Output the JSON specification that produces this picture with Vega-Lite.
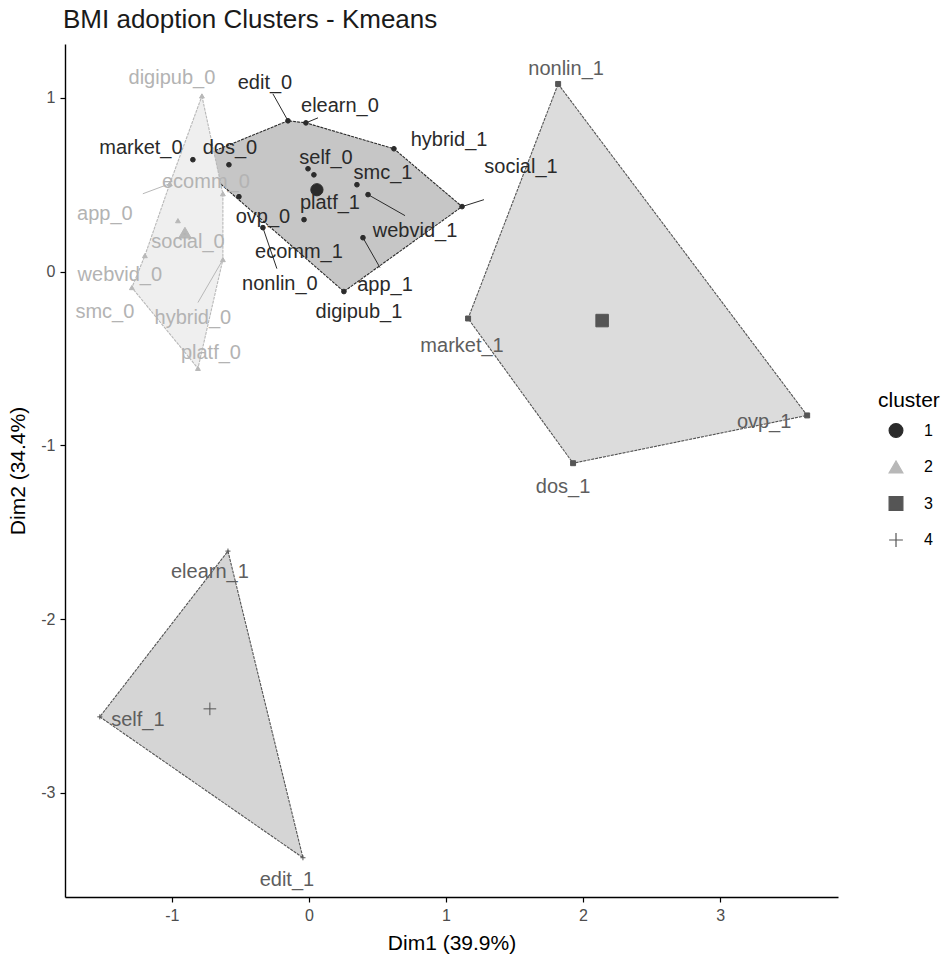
{
  "$schema": "https://vega.github.io/schema/vega-lite/v6.json",
  "width": 773,
  "height": 853,
  "autosize": {"type": "none"},
  "padding": {"left": 65, "top": 44, "right": 108, "bottom": 65},
  "background": "white",
  "title": {
    "text": "BMI adoption Clusters - Kmeans",
    "anchor": "start",
    "frame": "group",
    "font": "Liberation Sans",
    "fontSize": 26,
    "fontWeight": "normal",
    "color": "#1a1a1a",
    "offset": 11,
    "dx": -2
  },
  "config": {
    "view": {"stroke": null},
    "font": "Liberation Sans",
    "axis": {
      "grid": false,
      "domainColor": "#000000",
      "domainWidth": 1.4,
      "tickColor": "#000000",
      "tickWidth": 1.2,
      "tickSize": 5,
      "labelColor": "#4d4d4d",
      "labelFontSize": 16,
      "labelFont": "Liberation Sans",
      "labelPadding": 5,
      "titleFont": "Liberation Sans",
      "titleFontSize": 21,
      "titleFontWeight": "normal",
      "titleColor": "#000000"
    },
    "legend": {
      "titleFont": "Liberation Sans",
      "titleFontSize": 21,
      "titleFontWeight": "normal",
      "titleColor": "#000000",
      "labelFont": "Liberation Sans",
      "labelFontSize": 16,
      "labelColor": "#000000"
    }
  },
  "datasets": {
    "modalities": [
      {"name": "market_0", "cluster": "1", "x": -0.847, "y": 0.644, "lx": -1.226, "ly": 0.713, "h": 1},
      {"name": "edit_0", "cluster": "1", "x": -0.153, "y": 0.868, "lx": -0.321, "ly": 1.086, "h": 2, "sx": -0.263, "sy": 1.023},
      {"name": "elearn_0", "cluster": "1", "x": -0.022, "y": 0.856, "lx": 0.226, "ly": 0.954, "h": 3, "sx": 0.066, "sy": 0.885},
      {"name": "hybrid_1", "cluster": "1", "x": 0.62, "y": 0.707, "lx": 1.022, "ly": 0.759, "h": 4},
      {"name": "social_1", "cluster": "1", "x": 1.117, "y": 0.374, "lx": 1.547, "ly": 0.603, "h": 5, "sx": 1.277, "sy": 0.414},
      {"name": "digipub_1", "cluster": "1", "x": 0.255, "y": -0.115, "lx": 0.365, "ly": -0.23, "h": 6},
      {"name": "dos_0", "cluster": "1", "x": -0.584, "y": 0.615, "lx": -0.577, "ly": 0.713},
      {"name": "self_0", "cluster": "1", "x": -0.007, "y": 0.592, "lx": 0.124, "ly": 0.655},
      {"name": "platf_1", "cluster": "1", "x": 0.036, "y": 0.557, "lx": 0.153, "ly": 0.397},
      {"name": "smc_1", "cluster": "1", "x": 0.35, "y": 0.5, "lx": 0.54, "ly": 0.569},
      {"name": "webvid_1", "cluster": "1", "x": 0.431, "y": 0.443, "lx": 0.774, "ly": 0.236, "sx": 0.701, "sy": 0.322},
      {"name": "ovp_0", "cluster": "1", "x": -0.511, "y": 0.431, "lx": -0.336, "ly": 0.316},
      {"name": "nonlin_0", "cluster": "1", "x": -0.336, "y": 0.253, "lx": -0.212, "ly": -0.069, "sx": -0.234, "sy": 0.017},
      {"name": "ecomm_1", "cluster": "1", "x": -0.036, "y": 0.299, "lx": -0.073, "ly": 0.115},
      {"name": "app_1", "cluster": "1", "x": 0.394, "y": 0.195, "lx": 0.555, "ly": -0.075, "sx": 0.518, "sy": 0.023},
      {"name": "digipub_0", "cluster": "2", "x": -0.781, "y": 1.011, "lx": -1.0, "ly": 1.115, "h": 1},
      {"name": "ecomm_0", "cluster": "2", "x": -0.628, "y": 0.448, "lx": -0.752, "ly": 0.517, "h": 2},
      {"name": "hybrid_0", "cluster": "2", "x": -0.628, "y": 0.069, "lx": -0.847, "ly": -0.27, "h": 3, "sx": -0.81, "sy": -0.178},
      {"name": "platf_0", "cluster": "2", "x": -0.81, "y": -0.557, "lx": -0.715, "ly": -0.471, "h": 4},
      {"name": "smc_0", "cluster": "2", "x": -1.292, "y": -0.092, "lx": -1.489, "ly": -0.23, "h": 5},
      {"name": "webvid_0", "cluster": "2", "x": -1.197, "y": 0.092, "lx": -1.38, "ly": -0.017, "h": 6},
      {"name": "app_0", "cluster": "2", "x": -1.015, "y": 0.506, "lx": -1.489, "ly": 0.333, "h": 7, "sx": -1.212, "sy": 0.448},
      {"name": "social_0", "cluster": "2", "x": -0.956, "y": 0.293, "lx": -0.883, "ly": 0.172},
      {"name": "nonlin_1", "cluster": "3", "x": 1.818, "y": 1.08, "lx": 1.876, "ly": 1.167, "h": 1},
      {"name": "ovp_1", "cluster": "3", "x": 3.635, "y": -0.828, "lx": 3.321, "ly": -0.868, "h": 2},
      {"name": "dos_1", "cluster": "3", "x": 1.927, "y": -1.103, "lx": 1.854, "ly": -1.241, "h": 3},
      {"name": "market_1", "cluster": "3", "x": 1.161, "y": -0.27, "lx": 1.117, "ly": -0.431, "h": 4},
      {"name": "elearn_1", "cluster": "4", "x": -0.591, "y": -1.609, "lx": -0.723, "ly": -1.73, "h": 1},
      {"name": "edit_1", "cluster": "4", "x": -0.044, "y": -3.374, "lx": -0.161, "ly": -3.5, "h": 2},
      {"name": "self_1", "cluster": "4", "x": -1.526, "y": -2.563, "lx": -1.248, "ly": -2.58, "h": 3}
    ],
    "centers": [
      {"cluster": "1", "x": 0.058, "y": 0.471},
      {"cluster": "2", "x": -0.905, "y": 0.224},
      {"cluster": "3", "x": 2.139, "y": -0.282},
      {"cluster": "4", "x": -0.723, "y": -2.517}
    ]
  },
  "encoding": {
    "x": {
      "field": "x",
      "type": "quantitative",
      "scale": {"domain": [-1.78, 3.86], "nice": false, "zero": false},
      "axis": {"values": [-1, 0, 1, 2, 3], "labelExpr": "toString(datum.value)", "title": "Dim1 (39.9%)", "titlePadding": 9}
    },
    "y": {
      "field": "y",
      "type": "quantitative",
      "scale": {"domain": [-3.6, 1.31], "nice": false, "zero": false},
      "axis": {"values": [-3, -2, -1, 0, 1], "labelExpr": "toString(datum.value)", "title": "Dim2 (34.4%)", "titlePadding": 12}
    }
  },
  "layer": [
    {
      "data": {"name": "modalities"},
      "transform": [{"filter": "isValid(datum.h)"}],
      "mark": {"type": "line", "interpolate": "linear-closed", "strokeWidth": 1.1, "strokeDash": [3, 1]},
      "encoding": {
        "order": {"field": "h", "type": "quantitative"},
        "detail": {"field": "cluster"},
        "fill": {
          "field": "cluster",
          "type": "nominal",
          "scale": {"domain": ["1", "2", "3", "4"], "range": ["#c6c6c6", "#efefef", "#dcdcdc", "#d5d5d5"]},
          "legend": null
        },
        "stroke": {"field": "cluster", "type": "nominal", "title": "cluster"}
      }
    },
    {
      "data": {"name": "modalities"},
      "transform": [{"filter": "isValid(datum.sx)"}],
      "mark": {"type": "rule", "strokeWidth": 1},
      "encoding": {
        "x2": {"field": "sx"},
        "y2": {"field": "sy"},
        "stroke": {"field": "cluster", "type": "nominal", "title": "cluster"}
      }
    },
    {
      "data": {"name": "modalities"},
      "mark": {"type": "point", "filled": true, "strokeWidth": 1, "opacity": 1},
      "encoding": {
        "color": {
          "field": "cluster",
          "type": "nominal",
          "title": "cluster",
          "scale": {"domain": ["1", "2", "3", "4"], "range": ["#2b2b2b", "#b8b8b8", "#555555", "#555555"]}
        },
        "stroke": {
          "field": "cluster",
          "type": "nominal",
          "title": "cluster",
          "scale": {"domain": ["1", "2", "3", "4"], "range": ["#2b2b2b", "#b8b8b8", "#555555", "#555555"]}
        },
        "shape": {
          "field": "cluster",
          "type": "nominal",
          "title": "cluster",
          "scale": {"domain": ["1", "2", "3", "4"], "range": ["circle", "triangle-up", "square", "M-1,0H1M0,-1V1"]},
          "legend": {
            "orient": "none",
            "legendX": 813,
            "legendY": 346,
            "symbolSize": 190,
            "symbolStrokeWidth": 1.2,
            "symbolOffset": 10,
            "clipHeight": 35,
            "rowPadding": 1.5,
            "titlePadding": 2,
            "labelOffset": 20,
            "encode": {
              "entries": {
                "update": {
                  "width": {"value": 35},
                  "height": {"value": 35},
                  "strokeWidth": {"value": 1.2},
                  "fill": {"signal": "datum.value == '1' ? '#c6c6c6' : datum.value == '2' ? '#efefef' : datum.value == '3' ? '#dcdcdc' : '#d5d5d5'"},
                  "stroke": {"signal": "datum.value == '1' ? '#333333' : datum.value == '2' ? '#c4c4c4' : datum.value == '3' ? '#444444' : '#777777'"}
                }
              }
            }
          }
        },
        "size": {
          "field": "cluster",
          "type": "nominal",
          "scale": {"domain": ["1", "2", "3", "4"], "range": [22, 26, 22, 110]},
          "legend": null
        }
      }
    },
    {
      "data": {"name": "centers"},
      "mark": {"type": "point", "filled": true, "strokeWidth": 1, "opacity": 1},
      "encoding": {
        "color": {"field": "cluster", "type": "nominal", "title": "cluster"},
        "stroke": {"field": "cluster", "type": "nominal", "title": "cluster"},
        "shape": {"field": "cluster", "type": "nominal", "title": "cluster"},
        "size": {
          "field": "cluster",
          "type": "nominal",
          "scale": {"domain": ["1", "2", "3", "4"], "range": [150, 160, 150, 480]},
          "legend": null
        }
      }
    },
    {
      "data": {"name": "modalities"},
      "mark": {"type": "text", "fontSize": 20, "font": "Liberation Sans", "align": "center", "baseline": "middle"},
      "encoding": {
        "x": {"field": "lx", "type": "quantitative"},
        "y": {"field": "ly", "type": "quantitative"},
        "text": {"field": "name"},
        "fill": {
          "field": "cluster",
          "type": "nominal",
          "scale": {"domain": ["1", "2", "3", "4"], "range": ["#2a2a2a", "#b3b3b3", "#5e5e5e", "#5e5e5e"]},
          "legend": null
        }
      }
    }
  ],
  "resolve": {
    "scale": {"fill": "independent", "size": "independent"},
    "legend": {"fill": "independent", "size": "independent"}
  }
}
